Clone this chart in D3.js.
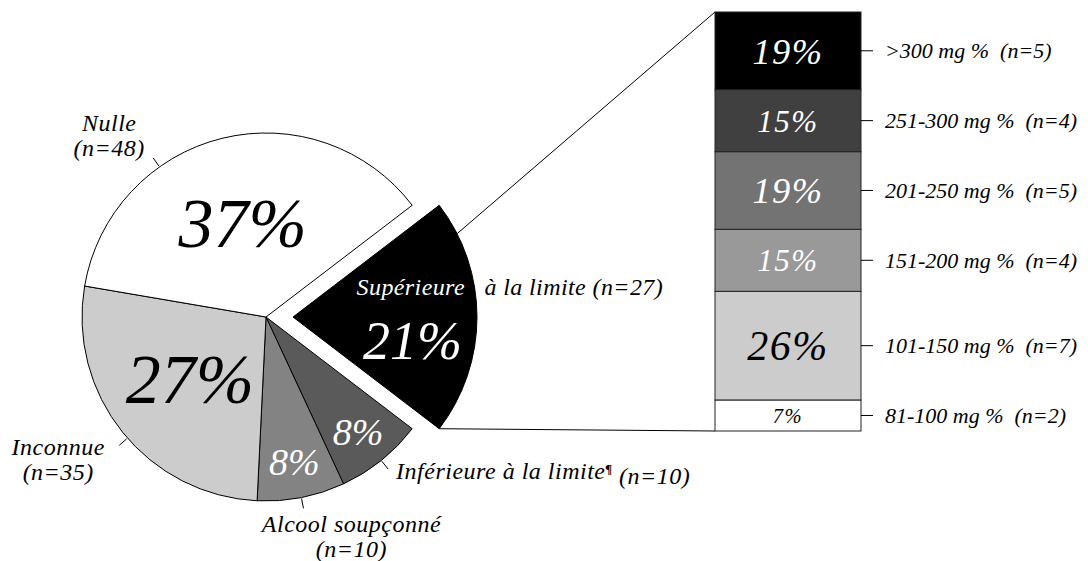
<!DOCTYPE html>
<html>
<head>
<meta charset="utf-8">
<script src="https://cdn.jsdelivr.net/npm/d3@7"></script>
<style>
  body { margin: 0; background: #fff; }
  text { font-family: "Liberation Serif", "DejaVu Serif", serif; font-style: italic; }
</style>
</head>
<body>
<div id="chart"></div>
<script>
// pie data (clockwise, starting with the split slice)
var pieCategories = ["Supérieure à la limite", "Inférieure à la limite", "Alcool soupçonné", "Inconnue", "Nulle"]
var pieCounts = [27, 10, 10, 35, 48]

// breakdown of the split slice, bottom to top
var barCategories = ["81-100 mg %", "101-150 mg %", "151-200 mg %", "201-250 mg %", "251-300 mg %", ">300 mg %"]
var barCounts = [2, 7, 4, 5, 4, 5]

var width = 1088,
    height = 561

var cx = 266, cy = 317, radius = 184, explode = 27
var barLeft = 715, barRight = 861, barTop = 12, barBottom = 431

var svg = d3.select("#chart")
  .append("svg")
    .attr("width", width)
    .attr("height", height)

var pieColor = d3.scaleOrdinal()
  .domain(pieCategories)
  .range(["#000000", "#5a5a5a", "#838383", "#cccccc", "#ffffff"])

var barColor = d3.scaleOrdinal()
  .domain(barCategories)
  .range(["#ffffff", "#cccccc", "#999999", "#737373", "#404040", "#000000"])

var pieTotal = d3.sum(pieCounts)
var barTotal = d3.sum(barCounts)
var pct = function(v, t) { return Math.round(v / t * 100) + "%" }

// split slice centred on 3 o'clock
var firstSpan = pieCounts[0] / pieTotal * 2 * Math.PI
var start = Math.PI / 2 - firstSpan / 2
var pie = d3.pie().sort(null).value(function(d) { return d.count })
  .startAngle(start).endAngle(start + 2 * Math.PI)

var pieData = pie(pieCategories.map(function(c, i) { return {cat: c, count: pieCounts[i]} }))

var arc = d3.arc().innerRadius(0).outerRadius(radius)

var polar = function(a, r) { return [Math.sin(a) * r, -Math.cos(a) * r] }

var offsetOf = function(d, i) {
  if (i != 0) return [0, 0]
  return polar((d.startAngle + d.endAngle) / 2, explode)
}

// bar scale
var y = d3.scaleLinear().domain([0, barTotal]).range([barBottom, barTop])
var cum = d3.cumsum(barCounts)
var barData = barCategories.map(function(c, i) {
  return {cat: c, count: barCounts[i], y0: cum[i] - barCounts[i], y1: cum[i]}
})

// connector lines between the split slice and the bar
var split = pieData[0]
var sOff = offsetOf(split, 0)
var topPt = polar(split.startAngle + (split.endAngle - split.startAngle) * 0.14, radius)
var botPt = polar(split.endAngle, radius)
svg.append("line")
  .attr("x1", cx + sOff[0] + topPt[0]).attr("y1", cy + sOff[1] + topPt[1])
  .attr("x2", barLeft).attr("y2", y(barTotal))
  .attr("stroke", "#000").attr("stroke-width", 1)
svg.append("line")
  .attr("x1", cx + sOff[0] + botPt[0]).attr("y1", cy + sOff[1] + botPt[1])
  .attr("x2", barLeft).attr("y2", y(0))
  .attr("stroke", "#000").attr("stroke-width", 1)

// slices
var g = svg.append("g").attr("transform", "translate(" + cx + "," + cy + ")")
g.selectAll("path.slice")
  .data(pieData)
  .enter()
  .append("path")
    .attr("class", "slice")
    .attr("d", arc)
    .attr("transform", function(d, i) { return "translate(" + offsetOf(d, i) + ")" })
    .attr("fill", function(d) { return pieColor(d.data.cat) })
    .attr("stroke", "#000")
    .attr("stroke-width", 1)
    .attr("stroke-linejoin", "round")

// percentages inside slices
g.selectAll("text.pct")
  .data(pieData)
  .enter()
  .append("text")
    .attr("class", "pct")
    .attr("transform", function(d, i) {
      var mid = (d.startAngle + d.endAngle) / 2
      var span = d.endAngle - d.startAngle
      var f = i == 0 ? 0.65 : (span > 1.2 ? 0.53 : 0.8)
      var p = polar(mid, radius * f)
      var o = offsetOf(d, i)
      var extra = i == 0 ? 23 : 0
      return "translate(" + (p[0] + o[0]) + "," + (p[1] + o[1] + extra) + ")"
    })
    .attr("text-anchor", "middle")
    .attr("dy", "0.35em")
    .style("font-size", function(d, i) {
      var span = d.endAngle - d.startAngle
      return (i == 0 ? 54 : (span > 1.2 ? 70 : 38)) + "px"
    })
    .attr("fill", function(d) { return d3.hsl(pieColor(d.data.cat)).l > 0.6 ? "#000" : "#fff" })
    .text(function(d) { return pct(d.value, pieTotal) })

// label of the split slice: first word inside (white), rest just outside the arc
var sc = polar((split.startAngle + split.endAngle) / 2, radius * 0.65)
var supY = sc[1] + sOff[1] - 22
var edgeX = sOff[0] + Math.sqrt(radius * radius - (supY - sOff[1] + 7) * (supY - sOff[1] + 7))
var words = split.data.cat.split(" ")
g.append("text")
  .attr("x", sc[0] + sOff[0] - 56)
  .attr("y", supY)
  .attr("fill", "#fff")
  .style("font-size", "24px")
  .style("letter-spacing", "0.4px")
  .text(words[0])
g.append("text")
  .attr("x", edgeX + 8)
  .attr("y", supY)
  .attr("fill", "#000")
  .style("font-size", "24px")
  .style("letter-spacing", "0.4px")
  .text(words.slice(1).join(" ") + " (n=" + split.data.count + ")")

// outer labels with short leader lines
var outerLayout = {
  "Inférieure à la limite": {shift: 0, anchor: "start", dx: 8, dy: 10, lines: 1},
  "Alcool soupçonné": {shift: 0, anchor: "middle", dx: 48, dy: 24, lines: 2},
  "Inconnue": {shift: -2.4, anchor: "middle", dx: -61, dy: 10, lines: 2},
  "Nulle": {shift: -21.5, anchor: "middle", dx: -44, dy: -27, lines: 2}
}
pieData.slice(1).forEach(function(d) {
  var L = outerLayout[d.data.cat]
  var a = (d.startAngle + d.endAngle) / 2 + L.shift * Math.PI / 180
  var p0 = polar(a, radius + 1)
  var p1 = polar(a, radius + 11)
  g.append("line")
    .attr("x1", p0[0]).attr("y1", p0[1])
    .attr("x2", p1[0]).attr("y2", p1[1])
    .attr("stroke", "#000").attr("stroke-width", 1)
  var t = g.append("text")
    .attr("x", p1[0] + L.dx)
    .attr("y", p1[1] + L.dy)
    .attr("text-anchor", L.anchor)
    .style("font-size", "24px")
    .style("letter-spacing", "0.5px")
  if (L.lines == 1) {
    t.append("tspan").text(d.data.cat)
    t.append("tspan").attr("dy", "-0.45em").style("font-size", "13px").style("font-weight", "bold").text("¶")
    t.append("tspan").attr("dy", "0.45em").text(" (n=" + d.data.count + ")")
  } else {
    t.append("tspan").attr("x", p1[0] + L.dx).text(d.data.cat)
    t.append("tspan").attr("x", p1[0] + L.dx).attr("dy", 25).text("(n=" + d.data.count + ")")
  }
})

// stacked bar
var bar = svg.append("g")
bar.selectAll("rect")
  .data(barData)
  .enter()
  .append("rect")
    .attr("x", barLeft)
    .attr("width", barRight - barLeft)
    .attr("y", function(d) { return y(d.y1) })
    .attr("height", function(d) { return y(d.y0) - y(d.y1) })
    .attr("fill", function(d) { return barColor(d.cat) })
    .attr("stroke", "#222")
    .attr("stroke-width", 1)

bar.selectAll("text.bpct")
  .data(barData)
  .enter()
  .append("text")
    .attr("class", "bpct")
    .attr("x", (barLeft + barRight) / 2)
    .attr("y", function(d) { return (y(d.y0) + y(d.y1)) / 2 })
    .attr("dy", "0.35em")
    .attr("text-anchor", "middle")
    .style("letter-spacing", "1.5px")
    .style("font-size", function(d) {
      var h = y(d.y0) - y(d.y1)
      return Math.min(42, 10 + h * 0.34) + "px"
    })
    .attr("fill", function(d) { return d3.hsl(barColor(d.cat)).l > 0.6 ? "#000" : "#fff" })
    .text(function(d) { return pct(d.count, barTotal) })

// ticks and labels right of the bar
bar.selectAll("line.tick")
  .data(barData)
  .enter()
  .append("line")
    .attr("x1", barRight).attr("x2", barRight + 12)
    .attr("y1", function(d) { return (y(d.y0) + y(d.y1)) / 2 })
    .attr("y2", function(d) { return (y(d.y0) + y(d.y1)) / 2 })
    .attr("stroke", "#000").attr("stroke-width", 1)

bar.selectAll("text.blab")
  .data(barData)
  .enter()
  .append("text")
    .attr("class", "blab")
    .attr("x", barRight + 24)
    .attr("y", function(d) { return (y(d.y0) + y(d.y1)) / 2 })
    .attr("dy", "0.35em")
    .attr("xml:space", "preserve")
    .style("font-size", "22px")
    .text(function(d) { return d.cat + "  (n=" + d.count + ")" })
</script>
</body>
</html>
